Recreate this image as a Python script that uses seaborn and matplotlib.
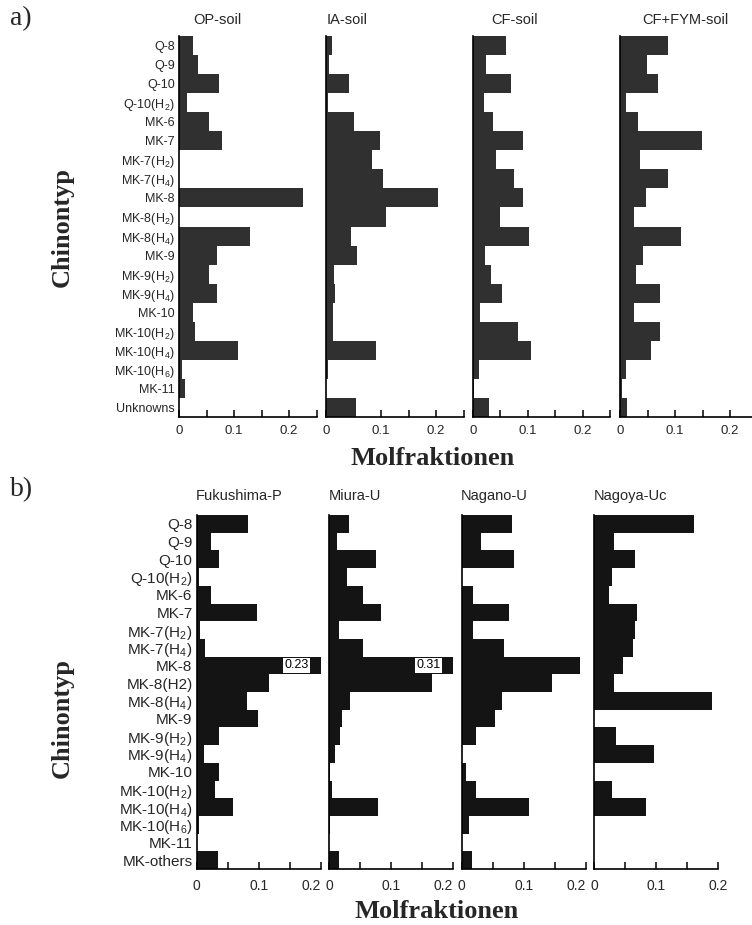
import matplotlib
matplotlib.use('Agg')
import matplotlib.pyplot as plt
import seaborn as sns
import pandas as pd
import numpy as np

sns.set_theme(style='white')
plt.rcParams['font.family'] = ['Liberation Sans', 'DejaVu Sans']
plt.rcParams['mathtext.fontset'] = 'custom'
plt.rcParams['mathtext.rm'] = 'Liberation Sans'
plt.rcParams['mathtext.default'] = 'regular'

# ---------------- data ----------------
cats_a = ['Q-8', 'Q-9', 'Q-10', 'Q-10(H$_2$)', 'MK-6', 'MK-7', 'MK-7(H$_2$)', 'MK-7(H$_4$)',
          'MK-8', 'MK-8(H$_2$)', 'MK-8(H$_4$)', 'MK-9', 'MK-9(H$_2$)', 'MK-9(H$_4$)', 'MK-10',
          'MK-10(H$_2$)', 'MK-10(H$_4$)', 'MK-10(H$_6$)', 'MK-11', 'Unknowns']
soils = ['OP-soil', 'IA-soil', 'CF-soil', 'CF+FYM-soil']
op_soil = [0.026, 0.034, 0.073, 0.014, 0.054, 0.079, 0.0, 0.0, 0.225, 0.0,
           0.129, 0.069, 0.054, 0.069, 0.025, 0.029, 0.108, 0.006, 0.010, 0.0]
ia_soil = [0.011, 0.006, 0.042, 0.004, 0.050, 0.099, 0.083, 0.104, 0.203, 0.109,
           0.045, 0.056, 0.015, 0.017, 0.012, 0.013, 0.090, 0.004, 0.0, 0.055]
cf_soil = [0.061, 0.025, 0.069, 0.021, 0.037, 0.092, 0.042, 0.075, 0.092, 0.049,
           0.102, 0.022, 0.033, 0.053, 0.014, 0.082, 0.106, 0.012, 0.003, 0.030]
cffym_soil = [0.087, 0.049, 0.069, 0.010, 0.032, 0.149, 0.036, 0.087, 0.048, 0.026,
              0.111, 0.042, 0.029, 0.072, 0.026, 0.072, 0.057, 0.011, 0.003, 0.013]

cats_b = ['Q-8', 'Q-9', 'Q-10', 'Q-10(H$_2$)', 'MK-6', 'MK-7', 'MK-7(H$_2$)', 'MK-7(H$_4$)',
          'MK-8', 'MK-8(H2)', 'MK-8(H$_4$)', 'MK-9', 'MK-9(H$_2$)', 'MK-9(H$_4$)', 'MK-10',
          'MK-10(H$_2$)', 'MK-10(H$_4$)', 'MK-10(H$_6$)', 'MK-11', 'MK-others']
sites = ['Fukushima-P', 'Miura-U', 'Nagano-U', 'Nagoya-Uc']
fukushima = [0.083, 0.023, 0.036, 0.004, 0.023, 0.097, 0.005, 0.013, 0.23, 0.117,
             0.081, 0.099, 0.036, 0.012, 0.036, 0.030, 0.058, 0.003, 0.0, 0.035]
miura = [0.032, 0.012, 0.076, 0.029, 0.054, 0.083, 0.016, 0.054, 0.31, 0.166,
         0.034, 0.021, 0.018, 0.009, 0.001, 0.004, 0.078, 0.001, 0.0, 0.016]
nagano = [0.081, 0.031, 0.085, 0.0, 0.018, 0.076, 0.019, 0.069, 0.191, 0.145,
          0.065, 0.054, 0.023, 0.0, 0.007, 0.023, 0.109, 0.012, 0.0, 0.017]
nagoya = [0.161, 0.031, 0.066, 0.028, 0.024, 0.069, 0.065, 0.063, 0.046, 0.032,
          0.190, 0.0, 0.035, 0.096, 0.0, 0.028, 0.084, 0.0, 0.0, 0.0]
off_scale_labels = {'Fukushima-P': '0.23', 'Miura-U': '0.31'}

# ---------------- layout ----------------
W, H = 752, 925
fig = plt.figure(figsize=(W / 100, H / 100), dpi=100)


def add_ax(x0, top, w, h):
    return fig.add_axes([x0 / W, 1 - (top + h) / H, w / W, h / H])


SERIF = ['Liberation Serif', 'DejaVu Serif']


def draw(ax, cats, vals, color, xmax, ticklabels, show_labels, lab_size, tick_size, pad,
         last_right=False):
    df = pd.DataFrame({'cat': cats, 'val': vals})
    sns.barplot(data=df, x='val', y='cat', orient='h', color=color, width=1.0,
                saturation=1, linewidth=0, ax=ax)
    ax.set_xlim(0, xmax)
    ax.set_ylim(len(cats) - 0.5, -0.5)
    ax.set_xticks(np.round(np.arange(0, xmax + 1e-9, 0.05), 2))
    ax.set_xticklabels(ticklabels)
    ax.tick_params(axis='x', direction='in', length=5, width=1.1, color='black',
                   labelsize=tick_size, pad=pad, bottom=True)
    ax.tick_params(axis='y', length=0, pad=3, labelsize=lab_size)
    if last_right:
        ax.get_xticklabels()[-1].set_horizontalalignment('right')
    if not show_labels:
        ax.set_yticklabels([])
    ax.set_xlabel('')
    ax.set_ylabel('')
    for s in ['top', 'right']:
        ax.spines[s].set_visible(False)
    for s in ['left', 'bottom']:
        ax.spines[s].set_color('black')
        ax.spines[s].set_linewidth(1.2)


# Panel a
a_x0 = [179, 326, 472.7, 620]
a_series = [op_soil, ia_soil, cf_soil, cffym_soil]
a_title_x = [217, 347, 515, 685]
for i, (name, vals) in enumerate(zip(soils, a_series)):
    ax = add_ax(a_x0[i], 36, 137.5, 381)
    draw(ax, cats_a, vals, '#303030', 0.25, ['0', '', '0.1', '', '0.2', ''],
         i == 0, 9, 9.5, 6)
    fig.text(a_title_x[i] / W, 1 - 20 / H, name, ha='center', va='center', fontsize=10.5)

# Panel b
b_x0 = [196.7, 329.3, 461.7, 594.3]
b_series = [fukushima, miura, nagano, nagoya]
for i, (name, vals) in enumerate(zip(sites, b_series)):
    ax = add_ax(b_x0[i], 515, 124, 354)
    draw(ax, cats_b, vals, '#141414', 0.2, ['0', '', '0.1', '', '0.2'],
         i == 0, 11, 10, 7, last_right=(i < 3))
    fig.text((b_x0[i] - 1) / W, 1 - 496 / H, name, ha='left', va='center', fontsize=10.5)
    if name in off_scale_labels:
        ax.text(0.18, cats_b.index('MK-8'), off_scale_labels[name], ha='right', va='center',
                fontsize=9, color='black',
                bbox=dict(boxstyle='square,pad=0.12', fc='white', ec='none'))

# Figure labels
fig.text(10 / W, 1 - 19 / H, 'a)', family=SERIF, fontsize=20, ha='left', va='center')
fig.text(10 / W, 1 - 490 / H, 'b)', family=SERIF, fontsize=20, ha='left', va='center')
fig.text(62 / W, 1 - 227 / H, 'Chinontyp', family=SERIF, fontweight='bold', fontsize=19,
         rotation=90, ha='center', va='center')
fig.text(62 / W, 1 - 718 / H, 'Chinontyp', family=SERIF, fontweight='bold', fontsize=19,
         rotation=90, ha='center', va='center')
fig.text(433 / W, 1 - 458 / H, 'Molfraktionen', family=SERIF, fontweight='bold', fontsize=19,
         ha='center', va='center')
fig.text(437 / W, 1 - 911 / H, 'Molfraktionen', family=SERIF, fontweight='bold', fontsize=19,
         ha='center', va='center')

fig.savefig('out.png', dpi=100)
